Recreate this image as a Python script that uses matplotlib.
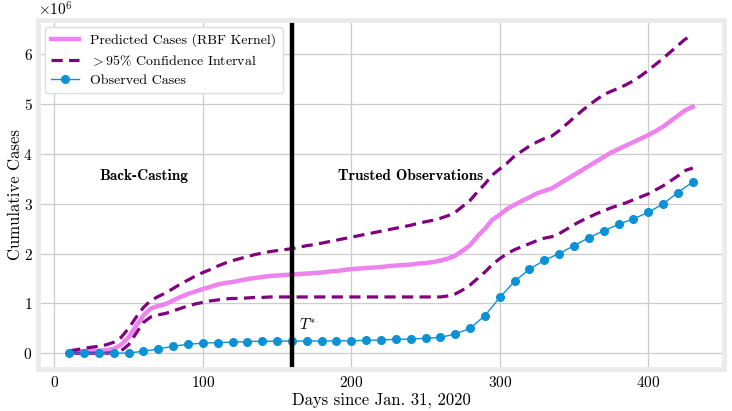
import numpy as np
import matplotlib
matplotlib.use('Agg')
import matplotlib.pyplot as plt

plt.rcParams['font.family'] = ['cmr10', 'DejaVu Serif']
plt.rcParams['mathtext.fontset'] = 'cm'
plt.rcParams['axes.formatter.use_mathtext'] = True
plt.rcParams['axes.unicode_minus'] = False

# smooth model curves, sampled every 5 days (values in millions)
days_fit = np.arange(10, 431, 5)
predicted = [0.03, 0.04, 0.04, 0.05, 0.05, 0.06, 0.09, 0.17, 0.32, 0.55,
             0.76, 0.90, 0.95, 0.99, 1.06, 1.13, 1.19, 1.24, 1.29, 1.33,
             1.38, 1.41, 1.43, 1.46, 1.49, 1.51, 1.53, 1.55, 1.56, 1.57,
             1.58, 1.59, 1.60, 1.61, 1.62, 1.64, 1.65, 1.67, 1.69, 1.70,
             1.71, 1.72, 1.73, 1.75, 1.76, 1.77, 1.78, 1.80, 1.81, 1.83,
             1.86, 1.90, 1.96, 2.06, 2.17, 2.35, 2.50, 2.68, 2.78, 2.90,
             2.98, 3.06, 3.13, 3.21, 3.26, 3.31, 3.40, 3.49, 3.58, 3.67,
             3.76, 3.85, 3.94, 4.03, 4.10, 4.17, 4.24, 4.31, 4.38, 4.46,
             4.55, 4.66, 4.77, 4.88, 4.95]
upper_ci = [0.05, 0.07, 0.10, 0.12, 0.14, 0.17, 0.22, 0.32, 0.50, 0.72,
            0.92, 1.06, 1.14, 1.21, 1.30, 1.39, 1.47, 1.55, 1.62, 1.68,
            1.75, 1.81, 1.86, 1.90, 1.94, 1.98, 2.01, 2.04, 2.06, 2.08,
            2.10, 2.13, 2.16, 2.18, 2.21, 2.24, 2.27, 2.30, 2.33, 2.36,
            2.39, 2.42, 2.45, 2.48, 2.51, 2.54, 2.57, 2.61, 2.64, 2.67,
            2.71, 2.76, 2.83, 2.95, 3.07, 3.24, 3.40, 3.58, 3.70, 3.82,
            3.96, 4.06, 4.16, 4.24, 4.31, 4.36, 4.47, 4.60, 4.73, 4.86,
            4.98, 5.09, 5.19, 5.26, 5.32, 5.39, 5.47, 5.57, 5.68, 5.80,
            5.92, 6.05, 6.18, 6.31, 6.37]
lower_ci = [0.01, 0.0, 0.0, 0.0, 0.0, 0.0, 0.01, 0.05, 0.17, 0.40,
            0.62, 0.73, 0.77, 0.80, 0.85, 0.90, 0.95, 0.99, 1.02, 1.05,
            1.07, 1.09, 1.10, 1.10, 1.11, 1.12, 1.12, 1.13, 1.13, 1.13,
            1.13, 1.13, 1.13, 1.13, 1.13, 1.13, 1.13, 1.13, 1.13, 1.13,
            1.13, 1.13, 1.13, 1.13, 1.13, 1.13, 1.13, 1.13, 1.13, 1.13,
            1.13, 1.15, 1.19, 1.27, 1.37, 1.50, 1.63, 1.78, 1.90, 2.00,
            2.08, 2.14, 2.20, 2.26, 2.31, 2.34, 2.40, 2.49, 2.58, 2.66,
            2.73, 2.80, 2.86, 2.92, 2.97, 3.02, 3.08, 3.14, 3.20, 3.28,
            3.36, 3.46, 3.56, 3.67, 3.72]

# observed cumulative cases every 10 days (millions)
days_obs = np.arange(10, 431, 10)
observed = [0.0, 0.0, 0.0, 0.0, 0.005, 0.04, 0.085, 0.14, 0.18, 0.20,
            0.215, 0.22, 0.235, 0.24, 0.24, 0.245, 0.245, 0.245, 0.247, 0.25,
            0.26, 0.266, 0.278, 0.286, 0.298, 0.318, 0.386, 0.50, 0.755, 1.12,
            1.445, 1.687, 1.867, 2.0, 2.16, 2.32, 2.46, 2.587, 2.70, 2.827,
            3.0, 3.227, 3.44]

t_star = 160

fig = plt.figure(figsize=(7.32, 4.11), dpi=100)
ax = fig.add_subplot(111)
fig.subplots_adjust(left=0.052, right=0.989, top=0.951, bottom=0.102)

M = 1e6
ax.plot(days_fit, np.array(predicted) * M, color='violet', lw=3.2,
        label='Predicted Cases (RBF Kernel)')
ax.plot(days_fit, np.array(upper_ci) * M, color='purple', lw=2.3,
        ls=(0, (3.5, 2)), label=r'$>95\%$ Confidence Interval')
ax.plot(days_fit, np.array(lower_ci) * M, color='purple', lw=2.3,
        ls=(0, (3.5, 2)))
ax.plot(days_obs, np.array(observed) * M, color='#0b92d6', lw=1.0,
        marker='o', ms=5.5, label='Observed Cases')
ax.axvline(t_star, color='black', lw=3.2)

ax.text(60, 3.55 * M, 'Back-Casting', family='cmb10', fontsize=11,
        ha='center', va='center')
ax.text(240, 3.55 * M, 'Trusted Observations', family='cmb10', fontsize=11,
        ha='center', va='center')
ax.text(165, 0.58 * M, r'$T^{*}$', fontsize=11, ha='left', va='center')

ax.set_xlabel('Days since Jan. 31, 2020', fontsize=12, labelpad=2)
ax.set_ylabel('Cumulative Cases', fontsize=12, labelpad=0)
ax.tick_params(labelsize=11, length=0, pad=4)
ax.yaxis.get_offset_text().set_fontsize(11)
ax.grid(True, color='#cccccc', lw=0.9)
ax.set_axisbelow(True)
for s in ax.spines.values():
    s.set_color('#ebebeb')
    s.set_linewidth(3.5)

leg = ax.legend(loc='upper left', fontsize=10, frameon=True, fancybox=True,
                edgecolor='#dddddd', framealpha=1.0, handlelength=2.0,
                borderpad=0.45, labelspacing=0.45)

fig.savefig('out.png', dpi=100)
